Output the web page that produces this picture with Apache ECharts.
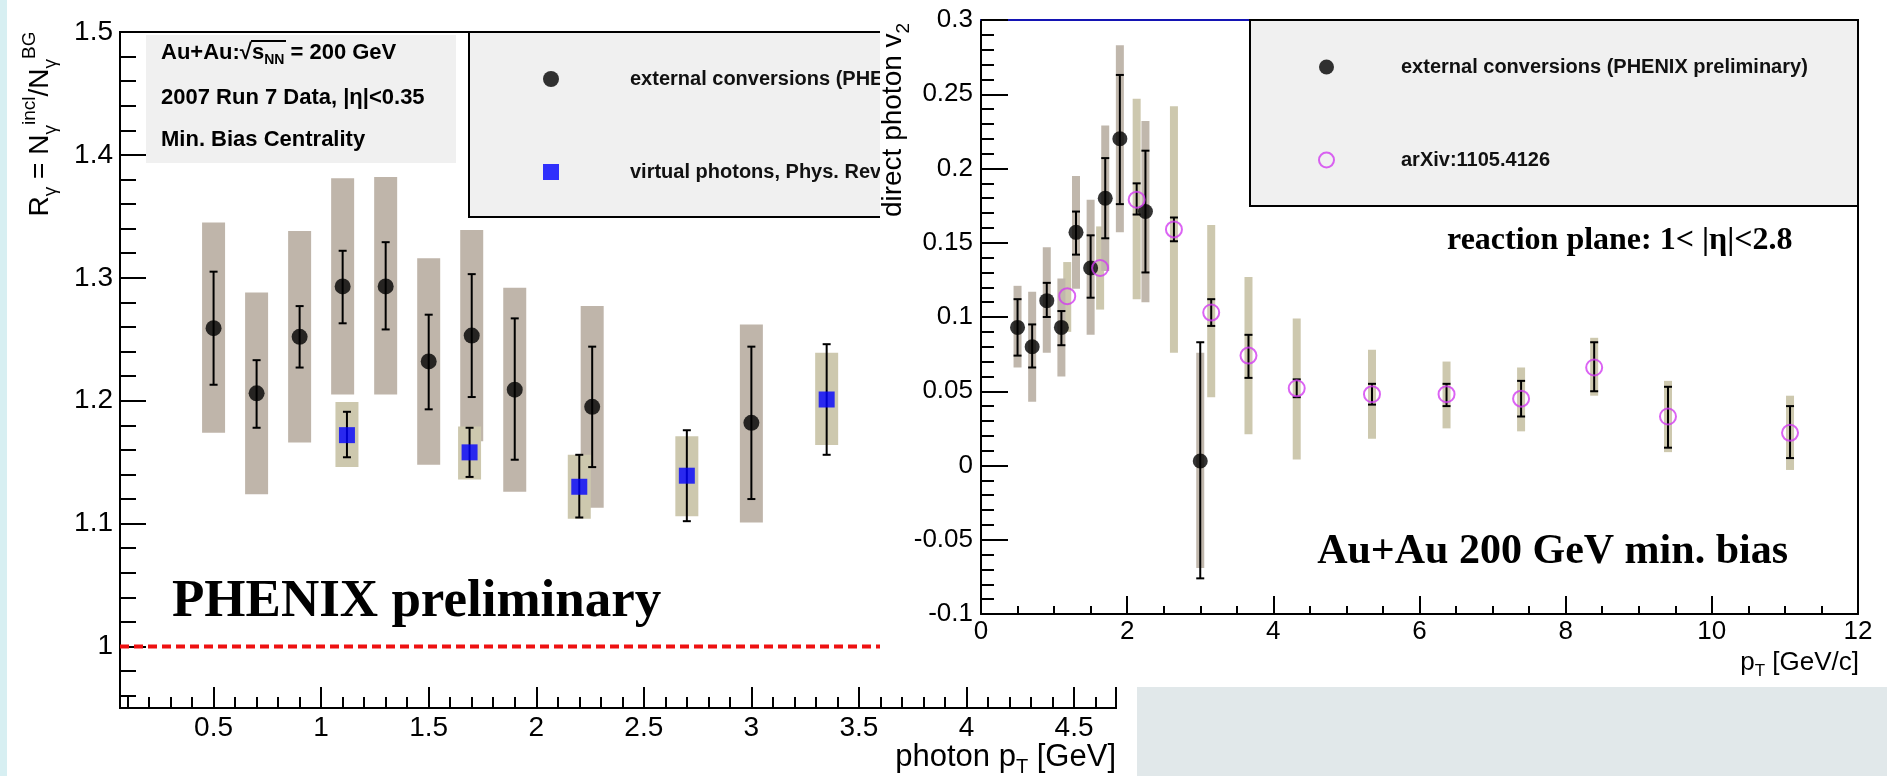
<!DOCTYPE html>
<html>
<head>
<meta charset="utf-8">
<title>PHENIX direct photon R_gamma and v2</title>
<script src="https://cdn.jsdelivr.net/npm/echarts@6/dist/echarts.min.js"></script>
<style>
html, body { margin: 0; padding: 0; background: #fff; }
#main { width: 1887px; height: 776px; }
</style>
</head>
<body>
<div id="main"></div>
<script>
// ---- left panel: R_gamma vs photon pT ----
const extX = [0.5, 0.7, 0.9, 1.1, 1.3, 1.5, 1.7, 1.9, 2.26, 3.0];
const extR = [1.259, 1.206, 1.252, 1.293, 1.293, 1.232, 1.253, 1.209, 1.195, 1.182];
const extStatLo = [1.213, 1.178, 1.227, 1.263, 1.258, 1.193, 1.203, 1.152, 1.146, 1.120];
const extStatHi = [1.305, 1.233, 1.277, 1.322, 1.329, 1.270, 1.303, 1.267, 1.244, 1.244];
const extSysLo = [1.174, 1.124, 1.166, 1.205, 1.205, 1.148, 1.167, 1.126, 1.113, 1.101];
const extSysHi = [1.345, 1.288, 1.338, 1.381, 1.382, 1.316, 1.339, 1.292, 1.277, 1.262];

const virX = [1.12, 1.69, 2.2, 2.7, 3.35];
const virR = [1.172, 1.158, 1.130, 1.139, 1.201];
const virStatLo = [1.154, 1.138, 1.105, 1.102, 1.156];
const virStatHi = [1.191, 1.178, 1.156, 1.176, 1.246];
const virSysLo = [1.146, 1.136, 1.104, 1.106, 1.164];
const virSysHi = [1.199, 1.179, 1.156, 1.171, 1.239];

const refLine = [[0.065, 1], [3.6, 1]];

const leftXTicks = [0.5, 1, 1.5, 2, 2.5, 3, 3.5, 4, 4.5];
const leftYTicks = [1, 1.1, 1.2, 1.3, 1.4, 1.5];
const leftXMinor = [];
for (let i = 1; i <= 46; i++) leftXMinor.push(i / 10);
const leftYMinor = [];
for (let i = 48; i <= 75; i++) leftYMinor.push(i / 50);

// ---- right panel: direct photon v2 vs pT ----
const v2ExtX = [0.5, 0.7, 0.9, 1.1, 1.3, 1.5, 1.7, 1.9, 2.25, 3.0];
const v2Ext = [0.093, 0.080, 0.111, 0.093, 0.157, 0.133, 0.180, 0.220, 0.171, 0.003];
const v2ExtStatLo = [0.074, 0.066, 0.100, 0.081, 0.142, 0.113, 0.153, 0.176, 0.130, -0.076];
const v2ExtStatHi = [0.112, 0.095, 0.123, 0.104, 0.171, 0.155, 0.207, 0.263, 0.212, 0.083];
const v2ExtSysLo = [0.066, 0.043, 0.076, 0.060, 0.119, 0.088, 0.131, 0.157, 0.110, -0.069];
const v2ExtSysHi = [0.121, 0.117, 0.147, 0.126, 0.195, 0.179, 0.229, 0.283, 0.232, 0.076];

const v2ArxX = [1.18, 1.63, 2.13, 2.64, 3.15, 3.66, 4.32, 5.35, 6.37, 7.39, 8.39, 9.40, 11.07];
const v2Arx = [0.114, 0.133, 0.179, 0.159, 0.103, 0.074, 0.052, 0.048, 0.048, 0.045, 0.066, 0.033, 0.022];
const v2ArxStatLo = [null, null, 0.169, 0.151, 0.094, 0.059, 0.046, 0.041, 0.040, 0.033, 0.050, 0.012, 0.005];
const v2ArxStatHi = [null, null, 0.190, 0.167, 0.112, 0.088, 0.058, 0.055, 0.055, 0.057, 0.083, 0.053, 0.040];
const v2ArxSysLo = [0.090, 0.105, 0.112, 0.076, 0.046, 0.021, 0.004, 0.018, 0.025, 0.023, 0.047, 0.009, -0.003];
const v2ArxSysHi = [0.137, 0.161, 0.247, 0.242, 0.162, 0.127, 0.099, 0.078, 0.070, 0.066, 0.086, 0.057, 0.047];

const EXT = "external conversions (PHENIX preliminary)";
const VIR = "virtual photons, Phys. Rev. Lett. 104, 132301 (2010)";
const ARX = "arXiv:1105.4126";

const SANS = "Liberation Sans";
const SERIF = "Liberation Serif";
const GREY = "#bfb5aa";
const TAN = "#cdc8ae";
const MAG = "#d23cf0";

function ranges(x, lo, hi) {
	return x.map((v, i) => [v, lo[i], hi[i]]).filter((d) => d[1] != null);
}
function points(x, y) {
	return x.map((v, i) => [v, y[i]]);
}

function boxRender(halfW, color) {
	return function (params, api) {
		const lo = api.coord([api.value(0), api.value(1)]);
		const hi = api.coord([api.value(0), api.value(2)]);
		return {
			type: "rect",
			shape: { x: lo[0] - halfW, y: hi[1], width: halfW * 2, height: lo[1] - hi[1] },
			style: { fill: color }
		};
	};
}
function barRender(cap) {
	return function (params, api) {
		const lo = api.coord([api.value(0), api.value(1)]);
		const hi = api.coord([api.value(0), api.value(2)]);
		const st = { stroke: "#000", lineWidth: 2 };
		return {
			type: "group",
			children: [
				{ type: "line", shape: { x1: lo[0], y1: lo[1], x2: hi[0], y2: hi[1] }, style: st },
				{ type: "line", shape: { x1: lo[0] - cap, y1: lo[1], x2: lo[0] + cap, y2: lo[1] }, style: st },
				{ type: "line", shape: { x1: hi[0] - cap, y1: hi[1], x2: hi[0] + cap, y2: hi[1] }, style: st }
			]
		};
	};
}

const black2 = { color: "#000", width: 2 };
const label = (size, margin, extra) => Object.assign({ show: true, margin: margin, fontSize: size, fontFamily: SANS, color: "#000" }, extra || {});

var myChart = echarts.init(document.getElementById("main"));

var option = {
	animation: false,
	backgroundColor: "#fff",
	grid: [
		{ left: 120, top: 32, width: 996, height: 676, show: true, borderColor: "#000", borderWidth: 2, backgroundColor: "transparent", z: 0, outerBoundsMode: "none" },
		{ left: 981, top: 20, width: 877, height: 594, z: 11, outerBoundsMode: "none" }
	],
	xAxis: [
		{
			gridIndex: 0, type: "value", min: 0.065, max: 4.695, position: "bottom", z: 1,
			axisLine: { show: true, onZero: false, lineStyle: black2 },
			axisTick: { show: true, inside: true, length: 21, customValues: leftXTicks, lineStyle: black2 },
			axisLabel: label(28, 6, { customValues: leftXTicks }),
			splitLine: { show: false }
		},
		{
			gridIndex: 0, type: "value", min: 0.065, max: 4.695, position: "bottom", z: 1,
			axisLine: { show: false },
			axisTick: { show: true, inside: true, length: 11, customValues: leftXMinor, lineStyle: black2 },
			axisLabel: { show: false },
			splitLine: { show: false }
		},
		{
			gridIndex: 1, type: "value", min: 0, max: 12, interval: 2, position: "bottom", z: 12,
			axisLine: { show: true, onZero: false, lineStyle: black2 },
			axisTick: { show: true, inside: true, length: 18, lineStyle: black2 },
			minorTick: { show: true, splitNumber: 4, length: 8, lineStyle: black2 },
			axisLabel: label(26, 5),
			splitLine: { show: false }
		},
		{
			gridIndex: 1, type: "value", min: 0, max: 12, position: "top", z: 12,
			axisLine: { show: true, onZero: false, lineStyle: { color: "#1414b4", width: 2 } },
			axisTick: { show: false }, axisLabel: { show: false }, splitLine: { show: false }
		}
	],
	yAxis: [
		{
			gridIndex: 0, type: "value", min: 0.95, max: 1.5, position: "left", z: 1,
			axisLine: { show: true, onZero: false, lineStyle: black2 },
			axisTick: { show: true, inside: true, length: 26, customValues: leftYTicks, lineStyle: black2 },
			axisLabel: label(28, 7, { customValues: leftYTicks }),
			splitLine: { show: false }
		},
		{
			gridIndex: 0, type: "value", min: 0.95, max: 1.5, position: "left", z: 1,
			axisLine: { show: false },
			axisTick: { show: true, inside: true, length: 16, customValues: leftYMinor, lineStyle: black2 },
			axisLabel: { show: false },
			splitLine: { show: false }
		},
		{
			gridIndex: 1, type: "value", min: -0.1, max: 0.3, interval: 0.05, position: "left", z: 12,
			axisLine: { show: true, onZero: false, lineStyle: black2 },
			axisTick: { show: true, inside: true, length: 27, lineStyle: black2 },
			minorTick: { show: true, splitNumber: 5, length: 13, lineStyle: black2 },
			axisLabel: label(26, 8),
			splitLine: { show: false }
		},
		{
			gridIndex: 1, type: "value", min: -0.1, max: 0.3, position: "right", z: 12,
			axisLine: { show: true, onZero: false, lineStyle: black2 },
			axisTick: { show: false }, axisLabel: { show: false }, splitLine: { show: false }
		}
	],
	legend: [
		{
			z: 7, left: 543, top: 69, orient: "vertical", padding: 0, itemWidth: 16, itemHeight: 16, itemGap: 73,
			selectedMode: false,
			textStyle: { fontSize: 20, fontWeight: "bold", fontFamily: SANS, color: "#111", lineHeight: 20, padding: [0, 0, 0, 66] },
			data: [
				{ name: EXT, icon: "circle", itemStyle: { color: "#000" } },
				{ name: VIR, icon: "rect", itemStyle: { color: "#0000ff" } }
			]
		},
		{
			z: 18, left: 1318, top: 57, orient: "vertical", padding: 0, itemWidth: 15, itemHeight: 15, itemGap: 73,
			selectedMode: false,
			textStyle: { fontSize: 20, fontWeight: "bold", fontFamily: SANS, color: "#111", lineHeight: 20, padding: [0, 0, 0, 62] },
			data: [
				{ name: EXT, icon: "circle", itemStyle: { color: "#000" } },
				{ name: ARX, icon: "circle", itemStyle: { color: "rgba(0,0,0,0)", borderColor: MAG, borderWidth: 2 } }
			]
		}
	],
	series: [
		// left panel
		{ type: "custom", xAxisIndex: 0, yAxisIndex: 0, z: 2, silent: true, renderItem: boxRender(11.5, GREY),
		  encode: { x: 0, y: [1, 2] }, data: ranges(extX, extSysLo, extSysHi) },
		{ type: "custom", xAxisIndex: 0, yAxisIndex: 0, z: 2, silent: true, renderItem: boxRender(11.5, TAN),
		  encode: { x: 0, y: [1, 2] }, data: ranges(virX, virSysLo, virSysHi) },
		{ type: "custom", xAxisIndex: 0, yAxisIndex: 0, z: 3, silent: true, renderItem: barRender(4),
		  encode: { x: 0, y: [1, 2] }, data: ranges(extX, extStatLo, extStatHi) },
		{ type: "custom", xAxisIndex: 0, yAxisIndex: 0, z: 3, silent: true, renderItem: barRender(4),
		  encode: { x: 0, y: [1, 2] }, data: ranges(virX, virStatLo, virStatHi) },
		{ type: "line", xAxisIndex: 0, yAxisIndex: 0, z: 3, silent: true, symbol: "none", data: refLine,
		  lineStyle: { color: "#ee1111", width: 4, type: [9, 5] } },
		{ name: EXT, type: "scatter", xAxisIndex: 0, yAxisIndex: 0, z: 4, silent: true, symbol: "circle", symbolSize: 16,
		  itemStyle: { color: "#000" }, data: points(extX, extR) },
		{ name: VIR, type: "scatter", xAxisIndex: 0, yAxisIndex: 0, z: 4, silent: true, symbol: "rect", symbolSize: 16,
		  itemStyle: { color: "#0000ff" }, data: points(virX, virR) },
		// right panel
		{ type: "custom", xAxisIndex: 2, yAxisIndex: 2, z: 13, silent: true, renderItem: boxRender(4, TAN),
		  encode: { x: 0, y: [1, 2] }, data: ranges(v2ArxX, v2ArxSysLo, v2ArxSysHi) },
		{ type: "custom", xAxisIndex: 2, yAxisIndex: 2, z: 13, silent: true, renderItem: boxRender(4, "#c0b7ac"),
		  encode: { x: 0, y: [1, 2] }, data: ranges(v2ExtX, v2ExtSysLo, v2ExtSysHi) },
		{ type: "custom", xAxisIndex: 2, yAxisIndex: 2, z: 14, silent: true, renderItem: barRender(4),
		  encode: { x: 0, y: [1, 2] }, data: ranges(v2ExtX, v2ExtStatLo, v2ExtStatHi) },
		{ type: "custom", xAxisIndex: 2, yAxisIndex: 2, z: 14, silent: true, renderItem: barRender(4),
		  encode: { x: 0, y: [1, 2] }, data: ranges(v2ArxX, v2ArxStatLo, v2ArxStatHi) },
		{ name: EXT, type: "scatter", xAxisIndex: 2, yAxisIndex: 2, z: 15, silent: true, symbol: "circle", symbolSize: 15,
		  itemStyle: { color: "#000" }, data: points(v2ExtX, v2Ext) },
		{ name: ARX, type: "scatter", xAxisIndex: 2, yAxisIndex: 2, z: 16, silent: true, symbol: "circle", symbolSize: 16,
		  itemStyle: { color: "rgba(0,0,0,0)", borderColor: MAG, borderWidth: 2 }, data: points(v2ArxX, v2Arx) }
	],
	graphic: {
		elements: [
			{ type: "rect", z: 0, silent: true, shape: { x: 0, y: 0, width: 7, height: 776 }, style: { fill: "#d7eff2" } },
			{ type: "rect", z: 6, silent: true, shape: { x: 146, y: 35, width: 310, height: 128 }, style: { fill: "#f0f0f0" } },
			{ type: "rect", z: 6, silent: true, shape: { x: 469, y: 32, width: 620, height: 185 }, style: { fill: "#f0f0f0", stroke: "#000", lineWidth: 2 } },
			{ type: "text", z: 7, silent: true, x: 161, y: 53, style: {
				text: "{b|Au+Au:√s}{s|NN}{b| = 200 GeV}", verticalAlign: "middle", fill: "#000",
				rich: { b: { fontSize: 22, fontWeight: "bold", fontFamily: SANS, lineHeight: 28 },
				        s: { fontSize: 14, fontWeight: "bold", fontFamily: SANS, lineHeight: 14, verticalAlign: "bottom" } } } },
			{ type: "line", z: 7, silent: true, shape: { x1: 251, y1: 41, x2: 286, y2: 41 }, style: { stroke: "#000", lineWidth: 2 } },
			{ type: "text", z: 7, silent: true, x: 161, y: 98, style: {
				text: "2007 Run 7 Data, |η|<0.35", fontSize: 22, fontWeight: "bold", fontFamily: SANS, fill: "#000", verticalAlign: "middle" } },
			{ type: "text", z: 7, silent: true, x: 161, y: 140, style: {
				text: "Min. Bias Centrality", fontSize: 22, fontWeight: "bold", fontFamily: SANS, fill: "#000", verticalAlign: "middle" } },
			{ type: "text", z: 7, silent: true, x: 172, y: 602, style: {
				text: "PHENIX preliminary", fontSize: 53, fontWeight: "bold", fontFamily: SERIF, fill: "#000", verticalAlign: "middle" } },
			{ type: "text", z: 7, silent: true, x: 40, y: 124, rotation: Math.PI / 2, style: {
				text: "{m|R}{s|γ}{m| = N}{s|γ}{p|incl}{m|/N}{s|γ}{p|BG}", align: "center", verticalAlign: "middle", fill: "#000",
				rich: { m: { fontSize: 28, fontFamily: SANS, lineHeight: 40 },
				        s: { fontSize: 19, fontFamily: SANS, lineHeight: 19, verticalAlign: "bottom" },
				        p: { fontSize: 19, fontFamily: SANS, lineHeight: 19, verticalAlign: "top" } } } },
			{ type: "text", z: 7, silent: true, x: 1116, y: 757, style: {
				text: "{m|photon p}{s|T}{m| [GeV]}", align: "right", verticalAlign: "middle", fill: "#000",
				rich: { m: { fontSize: 31, fontFamily: SANS, lineHeight: 40 },
				        s: { fontSize: 20, fontFamily: SANS, lineHeight: 20, verticalAlign: "bottom" } } } },
			// right panel backdrop
			{ type: "rect", z: 10, silent: true, shape: { x: 880, y: 0, width: 1007, height: 687 }, style: { fill: "#fff" } },
			{ type: "rect", z: 10, silent: true, shape: { x: 1137, y: 687, width: 750, height: 89 }, style: { fill: "#e1e8ea" } },
			{ type: "rect", z: 17, silent: true, shape: { x: 1250, y: 20, width: 608, height: 186 }, style: { fill: "#f0f0f0", stroke: "#000", lineWidth: 2 } },
			{ type: "text", z: 20, silent: true, x: 893, y: 120, rotation: Math.PI / 2, style: {
				text: "{m|direct photon v}{s|2}", align: "center", verticalAlign: "middle", fill: "#000",
				rich: { m: { fontSize: 28, fontFamily: SANS, lineHeight: 40 },
				        s: { fontSize: 19, fontFamily: SANS, lineHeight: 19, verticalAlign: "bottom" } } } },
			{ type: "text", z: 20, silent: true, x: 1859, y: 663, style: {
				text: "{m|p}{s|T}{m| [GeV/c]}", align: "right", verticalAlign: "middle", fill: "#000",
				rich: { m: { fontSize: 26, fontFamily: SANS, lineHeight: 34 },
				        s: { fontSize: 17, fontFamily: SANS, lineHeight: 17, verticalAlign: "bottom" } } } },
			{ type: "text", z: 20, silent: true, x: 1447, y: 241, style: {
				text: "reaction plane: 1< |η|<2.8", fontSize: 32, fontWeight: "bold", fontFamily: SERIF, fill: "#000", verticalAlign: "middle" } },
			{ type: "text", z: 20, silent: true, x: 1788, y: 552, style: {
				text: "Au+Au 200 GeV min. bias", fontSize: 42, fontWeight: "bold", fontFamily: SERIF, fill: "#000", align: "right", verticalAlign: "middle" } }
		]
	}
};

myChart.setOption(option);
</script>
</body>
</html>
